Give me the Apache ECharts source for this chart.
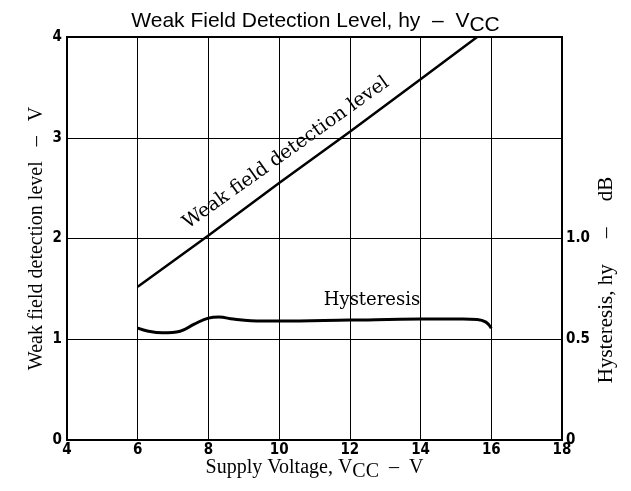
<!DOCTYPE html>
<html>
<head>
<meta charset="utf-8">
<script src="https://cdn.jsdelivr.net/npm/echarts@6/dist/echarts.min.js"></script>
<style>
  html, body { margin: 0; padding: 0; background: #ffffff; }
  #chart { width: 631px; height: 491px; }
</style>
</head>
<body>
<div id="chart"></div>
<script>
// x axis ticks (V) and left / right axis ticks
const xTicks = [4, 6, 8, 10, 12, 14, 16, 18];
const levelTicks = [0, 1, 2, 3, 4];
const hystTicks = [0, 0.5, 1.0];

// weak field detection level (V) vs supply voltage
const detectVcc = [6, 8, 10, 12, 14, 15.6];
const detectLevel = [1.52, 2.03, 2.55, 3.06, 3.58, 4.0];

// hysteresis (dB) vs supply voltage
const hystVcc = [6.0, 6.3, 6.7, 7.2, 7.6, 8.0, 8.3, 8.7, 9.2, 10, 12, 14, 15.2, 15.6, 15.85, 16.0];
const hystDb = [0.555, 0.54, 0.532, 0.54, 0.575, 0.605, 0.61, 0.6, 0.592, 0.59, 0.595, 0.6, 0.6, 0.598, 0.585, 0.555];

const tickFont = { color: "#000", fontFamily: "DejaVu Sans Condensed", fontWeight: "bold", fontSize: 15 };
const serif = "DejaVu Serif";

let myChart = echarts.init(document.getElementById("chart"));

let options = {
  animation: false,
  title: {
    text: "Weak Field Detection Level, hy  \u2013  V{sub|CC}",
    left: "center",
    top: 1,
    textStyle: {
      fontFamily: "Liberation Sans",
      fontWeight: "normal",
      fontSize: 21,
      color: "#000",
      rich: {
        sub: { fontFamily: "Liberation Sans", fontSize: 21, color: "#000", padding: [9, 0, 0, 0] }
      }
    }
  },
  grid: {
    left: 67,
    right: 69,
    top: 37,
    bottom: 51,
    outerBoundsMode: "none",
    containLabel: false,
    show: true,
    borderColor: "#000",
    borderWidth: 2
  },
  xAxis: {
    type: "value",
    min: xTicks[0],
    max: xTicks[xTicks.length - 1],
    interval: 2,
    name: "Supply Voltage, V{sub|CC}  \u2013  V",
    nameLocation: "middle",
    nameGap: 13,
    nameMoveOverlap: false,
    nameTextStyle: {
      fontFamily: "Liberation Serif",
      fontSize: 20,
      color: "#000",
      rich: {
        sub: { fontFamily: "Liberation Serif", fontSize: 20, color: "#000", padding: [9, 0, 0, 0] }
      }
    },
    axisLine: { show: true, lineStyle: { color: "#000", width: 2 } },
    axisTick: { show: false },
    axisLabel: Object.assign({ margin: 3 }, tickFont),
    splitLine: { show: true, lineStyle: { color: "#000", width: 1 } }
  },
  yAxis: [
    {
      type: "value",
      min: levelTicks[0],
      max: levelTicks[levelTicks.length - 1],
      interval: 1,
      name: "Weak field detection level   \u2013   V",
      nameLocation: "middle",
      nameGap: 20,
      nameMoveOverlap: false,
      nameTextStyle: { fontFamily: "Liberation Serif", fontSize: 20, color: "#000" },
      axisLine: { show: true, lineStyle: { color: "#000", width: 2 } },
      axisTick: { show: false },
      axisLabel: Object.assign({ margin: 5 }, tickFont),
      splitLine: { show: true, lineStyle: { color: "#000", width: 1 } }
    },
    {
      type: "value",
      min: 0,
      max: 2,
      interval: 0.5,
      position: "right",
      axisLine: { show: true, lineStyle: { color: "#000", width: 2 } },
      axisTick: { show: false },
      axisLabel: Object.assign({
        margin: 4,
        formatter: function (v) {
          let t = hystTicks.find((h) => Math.abs(h - v) < 1e-9);
          if (t === undefined) return "";
          return t === 0 ? "0" : t.toFixed(1);
        }
      }, tickFont),
      splitLine: { show: false }
    }
  ],
  series: [
    {
      name: "Weak field detection level",
      type: "line",
      yAxisIndex: 0,
      data: detectVcc.map((v, i) => [v, detectLevel[i]]),
      showSymbol: false,
      lineStyle: { color: "#000", width: 2.5 }
    },
    {
      name: "Hysteresis",
      type: "line",
      yAxisIndex: 1,
      smooth: 0.4,
      data: hystVcc.map((v, i) => [v, hystDb[i]]),
      showSymbol: false,
      lineStyle: { color: "#000", width: 3 }
    }
  ],
  graphic: [
    {
      type: "text",
      x: 286,
      y: 153,
      rotation: 35.5 * Math.PI / 180,
      style: {
        text: "Weak field detection level",
        font: "19px '" + serif + "'",
        fill: "#000",
        align: "center",
        verticalAlign: "middle"
      }
    },
    {
      type: "text",
      x: 372,
      y: 300,
      style: {
        text: "Hysteresis",
        font: "18px '" + serif + "'",
        fill: "#000",
        align: "center",
        verticalAlign: "middle"
      }
    },
    {
      type: "text",
      x: 606,
      y: 280,
      rotation: Math.PI / 2,
      style: {
        text: "Hysteresis, hy     \u2013     dB",
        font: "21px 'Liberation Serif'",
        fill: "#000",
        align: "center",
        verticalAlign: "middle"
      }
    }
  ]
};

myChart.setOption(options);
</script>
</body>
</html>
